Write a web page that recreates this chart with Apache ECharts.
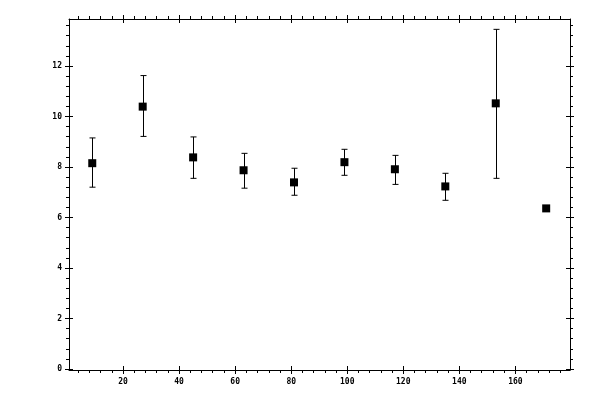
<!DOCTYPE html>
<html>
<head>
<meta charset="utf-8">
<script src="https://cdn.jsdelivr.net/npm/echarts@6/dist/echarts.min.js"></script>
<style>html,body{margin:0;padding:0;background:#fff}#c{width:600px;height:400px}</style>
</head>
<body>
<div id="c"></div>
<script>
var xValues = [9, 27, 45, 63, 81, 99, 117, 135, 153, 171];
var yValues = [8.15, 10.39, 8.38, 7.87, 7.39, 8.19, 7.91, 7.23, 10.52, 6.36];
var yLow    = [7.20, 9.21, 7.55, 7.16, 6.88, 7.67, 7.31, 6.68, 7.55, 6.36];
var yHigh   = [9.15, 11.62, 9.19, 8.54, 7.95, 8.70, 8.46, 7.75, 13.45, 6.36];

var xMajorTicks = [20, 40, 60, 80, 100, 120, 140, 160];
var xMinorTicks = [4, 8, 12, 16, 24, 28, 32, 36, 44, 48, 52, 56, 64, 68, 72, 76, 84, 88, 92, 96,
  104, 108, 112, 116, 124, 128, 132, 136, 144, 148, 152, 156, 164, 168, 172, 176];
var yMajorTicks = [0, 2, 4, 6, 8, 10, 12];
var yMinorTicks = [0.4, 0.8, 1.2, 1.6, 2.4, 2.8, 3.2, 3.6, 4.4, 4.8, 5.2, 5.6, 6.4, 6.8, 7.2, 7.6,
  8.4, 8.8, 9.2, 9.6, 10.4, 10.8, 11.2, 11.6, 12.4, 12.8, 13.2, 13.6];

var X_MIN = 0.7, X_MAX = 179.5, Y_MIN = -0.04, Y_MAX = 13.86;
var FONT = {fontFamily: 'DejaVu Sans Mono', fontSize: 8, fontWeight: 'bold', color: '#000'};

function mkX(pos, kind, labels) {
  var a = {
    type: 'value', position: pos, min: X_MIN, max: X_MAX,
    splitLine: {show: false},
    axisLine: {show: kind === 'minor', onZero: false, lineStyle: {color: '#000', width: 1}},
    axisTick: {show: true, inside: kind === 'in', length: kind === 'minor' ? 3 : 4,
      lineStyle: {color: '#000', width: 1},
      customValues: kind === 'minor' ? xMinorTicks : xMajorTicks},
    axisLabel: {show: !!labels, margin: 8, customValues: xMajorTicks}
  };
  Object.assign(a.axisLabel, FONT);
  return a;
}
function mkY(pos, kind, labels) {
  var a = {
    type: 'value', position: pos, min: Y_MIN, max: Y_MAX,
    splitLine: {show: false},
    axisLine: {show: kind === 'minor', onZero: false, lineStyle: {color: '#000', width: 1}},
    axisTick: {show: true, inside: kind === 'in', length: kind === 'minor' ? 3 : 4,
      lineStyle: {color: '#000', width: 1},
      customValues: kind === 'minor' ? yMinorTicks : yMajorTicks},
    axisLabel: {show: !!labels, margin: 7, customValues: yMajorTicks}
  };
  Object.assign(a.axisLabel, FONT);
  return a;
}

var pts = xValues.map(function (x, i) { return [x, yValues[i]]; });
var bars = xValues.map(function (x, i) { return [x, yLow[i], yHigh[i]]; });

var chart = echarts.init(document.getElementById('c'));
chart.setOption({
  backgroundColor: '#fff',
  animation: false,
  grid: {left: 69, top: 19, width: 501, height: 351, containLabel: false},
  xAxis: [
    mkX('bottom', 'minor', false), mkX('bottom', 'out', true), mkX('bottom', 'in', false),
    mkX('top', 'minor', false), mkX('top', 'out', false), mkX('top', 'in', false)
  ],
  yAxis: [
    mkY('left', 'minor', false), mkY('left', 'out', true), mkY('left', 'in', false),
    mkY('right', 'minor', false), mkY('right', 'out', false), mkY('right', 'in', false)
  ],
  series: [
    {
      type: 'custom', xAxisIndex: 0, yAxisIndex: 0, data: bars, z: 2,
      renderItem: function (params, api) {
        var x = api.value(0), lo = api.value(1), hi = api.value(2);
        if (hi - lo < 1e-9) return {type: 'group', children: []};
        var pLo = api.coord([x, lo]), pHi = api.coord([x, hi]);
        var st = {stroke: '#000', lineWidth: 1};
        var cx = Math.round(pLo[0]) + 0.5;
        return {type: 'group', children: [
          {type: 'line', shape: {x1: cx, y1: pHi[1], x2: cx, y2: pLo[1]}, style: st},
          {type: 'line', shape: {x1: cx - 3, y1: pHi[1], x2: cx + 3, y2: pHi[1]}, style: st},
          {type: 'line', shape: {x1: cx - 3, y1: pLo[1], x2: cx + 3, y2: pLo[1]}, style: st}
        ]};
      }
    },
    {
      type: 'scatter', xAxisIndex: 0, yAxisIndex: 0, data: pts, z: 3,
      symbol: 'rect', symbolSize: 8, itemStyle: {color: '#000', opacity: 1}
    }
  ]
});
</script>
</body>
</html>
